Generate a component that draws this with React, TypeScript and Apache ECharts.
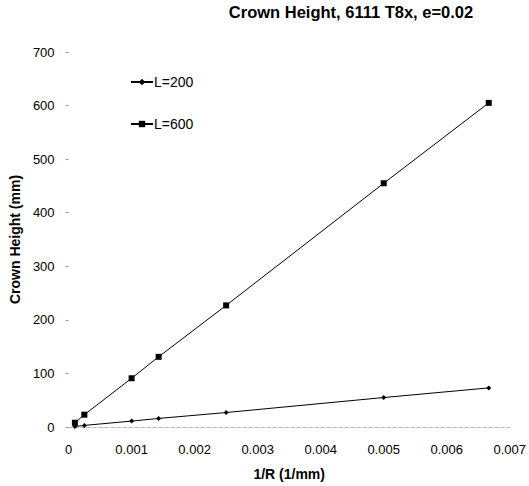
import React, { useEffect, useRef } from "react";
import * as echarts from "echarts";

const xValues = [0.0001, 0.00025, 0.001, 0.001429, 0.0025, 0.005, 0.006667];
const seriesL200 = [1, 3, 11, 16, 27, 55, 73];
const seriesL600 = [8, 23, 91, 131, 227, 455, 605];
const seriesNames = ["L=200", "L=600"];
const titleText = "Crown Height, 6111 T8x, e=0.02";
const xAxisName = "1/R (1/mm)";
const yAxisName = "Crown Height (mm)";

const FONT = "'Liberation Sans', Arial, sans-serif";

export default function App() {
  const ref = useRef<HTMLDivElement>(null);
  useEffect(() => {
    document.body.style.margin = "0";
    document.body.style.overflow = "hidden";
    if (!ref.current) return;
    const chart = echarts.init(ref.current, undefined, { renderer: "svg" });
    const toPairs = (vals: number[]) => xValues.map((x, i) => [x, vals[i]]);
    chart.setOption({
      animation: false,
      backgroundColor: "#ffffff",
      textStyle: { fontFamily: FONT, color: "#000" },
      title: {
        text: titleText,
        left: 346,
        textAlign: "center",
        top: -2,
        textStyle: { fontFamily: FONT, fontSize: 16.5, fontWeight: "bold", color: "#000" },
      },
      legend: {
        orient: "vertical",
        left: 125,
        top: 70,
        itemGap: 28,
        itemWidth: 22,
        itemHeight: 8,
        data: seriesNames,
        textStyle: { fontFamily: FONT, fontSize: 14, color: "#000", padding: [0, 0, 0, -4] },
      },
      grid: { left: 62, right: 19, top: 52, bottom: 54, containLabel: false },
      xAxis: {
        type: "value",
        min: 0,
        max: 0.007,
        interval: 0.001,
        name: xAxisName,
        nameLocation: "middle",
        nameGap: 40,
        nameTextStyle: { fontFamily: FONT, fontSize: 14, fontWeight: "bold", color: "#000" },
        axisLine: { show: true, lineStyle: { color: "#bbb", type: "dashed", width: 1 } },
        axisTick: { show: false },
        splitLine: { show: false },
        axisLabel: {
          fontFamily: FONT,
          fontSize: 13,
          color: "#000",
          margin: 16,
          formatter: (v: number) => (v === 0 ? "0" : v.toFixed(3)),
        },
      },
      yAxis: {
        type: "value",
        min: 0,
        max: 700,
        interval: 100,
        name: yAxisName,
        nameLocation: "middle",
        nameGap: 37,
        nameTextStyle: { fontFamily: FONT, fontSize: 14, fontWeight: "bold", color: "#000" },
        axisLine: { show: false },
        axisTick: { show: true, length: 3, lineStyle: { color: "#999" } },
        splitLine: { show: false },
        axisLabel: { fontFamily: FONT, fontSize: 13, color: "#000", margin: 14 },
      },
      series: [
        {
          name: seriesNames[0],
          type: "line",
          data: toPairs(seriesL200),
          symbol: "diamond",
          symbolSize: 5,
          color: "#000",
          lineStyle: { color: "#000", width: 1 },
          itemStyle: { color: "#000" },
        },
        {
          name: seriesNames[1],
          type: "line",
          data: toPairs(seriesL600),
          symbol: "rect",
          symbolSize: 6,
          color: "#000",
          lineStyle: { color: "#000", width: 1 },
          itemStyle: { color: "#000" },
        },
      ],
    });
    return () => chart.dispose();
  }, []);
  return <div ref={ref} style={{ width: 529, height: 486 }} />;
}
